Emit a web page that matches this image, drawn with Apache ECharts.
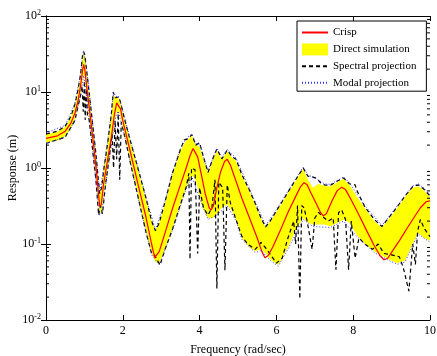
<!DOCTYPE html>
<html>
<head>
<meta charset="utf-8">
<script src="https://cdn.jsdelivr.net/npm/echarts@6/dist/echarts.min.js"></script>
<style>
  html, body { margin: 0; padding: 0; background: #fff; }
  #chart { width: 437px; height: 356px; }
</style>
</head>
<body>
<div id="chart"></div>
<script>
// values: [frequency, response]
const crisp = [
  [0,2.45],[0.3,2.65],[0.5,3.05],[0.65,3.9],[0.75,5.2],[0.83,7.5],[0.9,12],[0.95,19],[0.98,23],[1.01,20],
  [1.05,13],[1.1,8],[1.2,3],[1.3,1.05],[1.36,0.5],[1.4,0.31],[1.44,0.33],[1.5,0.62],[1.6,1.25],[1.7,2.5],
  [1.78,5],[1.84,7.2],[1.88,7.3],[1.94,6],[2.0,4.2],[2.2,1.6],[2.4,0.6],[2.6,0.23],[2.75,0.1],[2.83,0.066],
  [2.88,0.064],[2.95,0.08],[3.1,0.14],[3.3,0.3],[3.5,0.6],[3.65,1.0],[3.75,1.45],[3.83,1.8],[3.88,1.75],[3.95,1.4],
  [4.05,0.8],[4.15,0.45],[4.25,0.3],[4.3,0.28],[4.36,0.32],[4.45,0.55],[4.55,0.9],[4.65,1.22],[4.72,1.3],[4.8,1.1],
  [4.92,0.74],[5.1,0.4],[5.3,0.22],[5.5,0.12],[5.62,0.08],[5.7,0.066],[5.78,0.07],[5.9,0.09],[6.1,0.15],[6.3,0.26],
  [6.5,0.42],[6.62,0.56],[6.72,0.64],[6.8,0.6],[6.9,0.47],[7.05,0.33],[7.15,0.26],[7.22,0.235],[7.3,0.25],[7.45,0.37],
  [7.58,0.5],[7.7,0.56],[7.8,0.52],[7.95,0.38],[8.15,0.24],[8.35,0.15],[8.55,0.095],[8.7,0.07],[8.8,0.062],[8.9,0.065],
  [9.05,0.085],[9.2,0.11],[9.4,0.16],[9.6,0.23],[9.75,0.3],[9.9,0.36],[10,0.37]
];

// direct simulation band: [frequency, lower, upper]
const directBand = [
  [0,2.15,2.75],[0.3,2.3,3.0],[0.5,2.6,3.5],[0.65,3.3,4.7],[0.75,4.3,6.6],[0.83,6.2,10],[0.9,9.5,16],[0.95,14,28],
  [0.98,17,33],[1.01,16,30],[1.05,10,20],[1.1,6,12],[1.2,2.2,4.3],[1.3,0.75,1.5],[1.36,0.35,0.7],[1.4,0.25,0.45],
  [1.45,0.27,0.55],[1.5,0.42,0.9],[1.6,0.9,2.0],[1.7,2.0,4.8],[1.76,3.2,9.2],[1.82,5,8.3],[1.88,5.8,8.4],[1.95,4.5,6.8],
  [2.05,2.7,4.2],[2.2,1.2,2.2],[2.4,0.42,0.95],[2.6,0.15,0.4],[2.75,0.075,0.2],[2.85,0.058,0.15],[2.95,0.055,0.19],
  [3.1,0.085,0.35],[3.3,0.16,0.85],[3.5,0.33,1.7],[3.65,0.55,2.3],[3.8,0.8,2.65],[3.9,0.7,2.0],[4.0,0.42,1.9],
  [4.1,0.28,1.3],[4.22,0.22,0.85],[4.35,0.22,1.3],[4.45,0.25,1.7],[4.58,0.3,1.3],[4.72,0.33,1.65],[4.85,0.27,1.35],
  [4.95,0.21,1.25],[5.1,0.12,0.8],[5.3,0.09,0.5],[5.45,0.08,0.33],[5.6,0.085,0.22],[5.72,0.075,0.165],[5.85,0.062,0.2],
  [6.05,0.053,0.29],[6.3,0.09,0.47],[6.5,0.15,0.68],[6.7,0.22,0.98],[6.82,0.19,0.7],[6.95,0.18,0.55],[7.1,0.18,0.62],
  [7.25,0.18,0.58],[7.4,0.17,0.57],[7.6,0.19,0.66],[7.75,0.21,0.72],[7.9,0.19,0.6],[8.1,0.13,0.42],[8.3,0.1,0.3],
  [8.55,0.08,0.2],[8.75,0.07,0.165],[8.95,0.062,0.22],[9.15,0.056,0.3],[9.35,0.06,0.42],[9.55,0.1,0.55],
  [9.7,0.14,0.57],[9.85,0.12,0.5],[10,0.11,0.42]
];

const spectralUpper = [
  [0,2.8],[0.3,3.05],[0.5,3.55],[0.65,4.8],[0.75,6.8],[0.83,10.5],[0.9,17],[0.95,30],[0.98,34],[1.01,31],
  [1.05,21],[1.1,12.5],[1.2,4.4],[1.3,1.55],[1.36,0.72],[1.4,0.46],[1.45,0.56],[1.5,0.92],[1.6,2.05],[1.7,5],
  [1.75,10],[1.8,8.4],[1.85,8.9],[1.9,8.6],[1.95,7],[2.05,4.3],[2.2,2.25],[2.4,0.97],[2.6,0.41],[2.75,0.2],
  [2.85,0.15],[2.95,0.19],[3.1,0.36],[3.3,0.88],[3.5,1.75],[3.6,2.35],[3.68,2.4],[3.8,2.75],[3.9,2.0],[4.0,2.15],
  [4.1,1.4],[4.22,0.88],[4.35,1.35],[4.45,1.78],[4.58,1.32],[4.72,1.72],[4.85,1.4],[4.95,1.3],[5.1,0.82],[5.3,0.51],
  [5.45,0.34],[5.6,0.22],[5.72,0.168],[5.85,0.205],[6.05,0.3],[6.3,0.48],[6.5,0.7],[6.7,1.0],[6.82,0.78],[6.95,0.76],
  [7.05,0.73],[7.15,0.64],[7.25,0.6],[7.4,0.59],[7.6,0.68],[7.75,0.74],[7.9,0.62],[8.05,0.6],[8.1,0.5],[8.3,0.31],
  [8.55,0.21],[8.75,0.17],[8.95,0.23],[9.15,0.31],[9.35,0.43],[9.55,0.57],[9.7,0.6],[9.85,0.52],[10,0.43]
];

const spectralLower = [
  [0,2.1],[0.5,2.55],[0.75,4.2],[0.85,7],[0.9,9],[0.94,12],[0.97,5.5],[1.0,14],[1.02,4.3],[1.05,11],
  [1.08,4.8],[1.12,4.4],[1.2,2.0],[1.3,0.7],[1.37,0.24],[1.42,0.32],[1.47,0.25],[1.55,0.6],[1.65,1.4],[1.72,2.8],
  [1.76,1.0],[1.8,4.2],[1.84,1.3],[1.88,5.2],[1.92,0.7],[1.96,4.0],[2.05,2.6],[2.2,1.15],[2.4,0.41],[2.6,0.145],
  [2.75,0.075],[2.82,0.072],[2.97,0.053],[3.1,0.085],[3.3,0.16],[3.5,0.33],[3.65,0.56],[3.72,0.85],[3.75,0.063],[3.79,1.0],
  [3.88,0.95],[3.95,0.075],[4.0,0.55],[4.1,0.3],[4.22,0.24],[4.32,0.3],[4.4,0.7],[4.45,0.026],[4.5,0.65],[4.6,0.55],
  [4.66,0.045],[4.72,0.6],[4.8,0.35],[4.92,0.23],[5.1,0.126],[5.25,0.1],[5.45,0.085],[5.6,0.105],[5.75,0.085],[6.0,0.056],
  [6.15,0.065],[6.3,0.12],[6.45,0.2],[6.5,0.1],[6.55,0.32],[6.61,0.019],[6.66,0.32],[6.72,0.3],[6.8,0.2],[6.93,0.085],
  [7.0,0.22],[7.1,0.26],[7.2,0.23],[7.35,0.2],[7.48,0.22],[7.55,0.046],[7.62,0.26],[7.7,0.28],[7.8,0.21],[7.88,0.046],
  [7.95,0.2],[8.05,0.065],[8.15,0.12],[8.3,0.1],[8.5,0.085],[8.65,0.1],[8.8,0.075],[9.0,0.072],[9.2,0.068],[9.3,0.05],
  [9.45,0.024],[9.55,0.1],[9.62,0.054],[9.68,0.15],[9.75,0.21],[9.85,0.16],[10,0.125]
];

const modalUpper = [
  [0,2.9],[0.5,3.65],[0.75,7.0],[0.9,17.5],[0.97,34],[1.05,22],[1.2,4.5],[1.36,0.74],[1.4,0.48],[1.5,0.95],
  [1.7,5.1],[1.76,10],[1.82,8.7],[1.88,8.9],[1.95,7.1],[2.2,2.3],[2.4,1.0],[2.6,0.42],[2.85,0.155],[3.1,0.37],
  [3.3,0.9],[3.5,1.8],[3.65,2.45],[3.8,2.8],[3.9,2.1],[4.0,2.05],[4.1,1.4],[4.22,0.92],[4.45,1.82],[4.58,1.38],
  [4.72,1.75],[4.95,1.35],[5.3,0.53],[5.72,0.175],[6.05,0.31],[6.5,0.72],[6.7,1.03],[6.82,0.8],[6.95,0.77],[7.25,0.62],
  [7.4,0.61],[7.75,0.76],[7.9,0.64],[8.3,0.32],[8.75,0.175],[9.15,0.32],[9.55,0.58],[9.7,0.62],[9.85,0.54],[10,0.45]
];

const modalLower = [
  [0,2.1],[0.5,2.55],[0.75,4.2],[0.9,9.2],[0.98,16.5],[1.05,9.6],[1.2,2.1],[1.36,0.34],[1.4,0.24],[1.45,0.26],
  [1.6,0.88],[1.7,1.95],[1.82,4.8],[1.88,5.6],[2.05,2.6],[2.4,0.4],[2.75,0.072],[2.95,0.053],[3.3,0.155],[3.65,0.53],
  [3.8,0.77],[4.0,0.4],[4.22,0.21],[4.45,0.24],[4.72,0.32],[4.95,0.2],[5.1,0.115],[5.45,0.077],[5.6,0.082],[5.85,0.06],
  [6.05,0.051],[6.3,0.086],[6.7,0.21],[6.95,0.17],[7.4,0.165],[7.75,0.2],[8.1,0.125],[8.55,0.077],[8.95,0.06],[9.15,0.054],
  [9.35,0.058],[9.55,0.097],[9.7,0.135],[10,0.105]
];

const xTicks = [0, 2, 4, 6, 8, 10];
const decades = [0.01, 0.1, 1, 10];
const minorSteps = [2, 3, 4, 5, 6, 7, 8, 9];

const FONT = 'Liberation Serif';
const chart = echarts.init(document.getElementById('chart'), null, { renderer: 'canvas' });

const axisBase = {
  axisLine: { lineStyle: { color: '#000', width: 1 } },
  axisTick: { inside: true, length: 5, lineStyle: { color: '#000' } },
  splitLine: { show: false },
};

function lineSeries(name, data, color, type, width) {
  return {
    name, type: 'line', data, symbol: 'none', showSymbol: false,
    lineStyle: { color, width, type }, itemStyle: { color },
    animation: false, z: 3,
  };
}

// hide the marker that the legend adds to line icons
const noMarker = { opacity: 0 };

chart.setOption({
  animation: false,
  grid: { left: 46, right: 7, top: 16, bottom: 36, outerBoundsMode: 'none', containLabel: false },
  legend: {
    left: 297, top: 21, orient: 'vertical',
    backgroundColor: '#fff', borderColor: '#000', borderWidth: 1,
    padding: [6, 10, 3, 4], itemWidth: 26, itemHeight: 12, itemGap: 5.4,
    selectedMode: false,
    textStyle: { fontFamily: FONT, fontSize: 11, color: '#000' },
    data: [
      { name: 'Crisp', itemStyle: noMarker },
      { name: 'Direct simulation', icon: 'rect', itemStyle: { color: '#ffff00' } },
      { name: 'Spectral projection', itemStyle: noMarker },
      { name: 'Modal projection', itemStyle: noMarker },
    ],
  },
  xAxis: [
    Object.assign({}, axisBase, {
      type: 'value', min: xTicks[0], max: xTicks[xTicks.length - 1], interval: 2,
      name: 'Frequency (rad/sec)', nameLocation: 'middle', nameGap: 24,
      nameTextStyle: { fontFamily: FONT, fontSize: 12, color: '#000' },
      axisLabel: { fontFamily: FONT, fontSize: 12, color: '#000', margin: 5 },
    }),
    Object.assign({}, axisBase, {
      type: 'value', position: 'top', min: 0, max: 10, interval: 2,
      axisLabel: { show: false },
    }),
  ],
  yAxis: [
    Object.assign({}, axisBase, {
      type: 'log', logBase: 10, min: 0.01, max: 100,
      name: 'Response (m)', nameLocation: 'middle', nameGap: 27, nameMoveOverlap: false,
      nameTextStyle: { fontFamily: FONT, fontSize: 12, color: '#000' },
      axisLabel: {
        margin: 5,
        formatter: (v) => '{b|10}{s|' + Math.round(Math.log10(v)) + '}',
        rich: {
          b: { fontFamily: FONT, fontSize: 12, color: '#000', lineHeight: 14 },
          s: { fontFamily: FONT, fontSize: 8, color: '#000', lineHeight: 8, verticalAlign: 'top' },
        },
      },
    }),
    Object.assign({}, axisBase, {
      type: 'log', logBase: 10, min: 0.01, max: 100, position: 'right',
      axisLabel: { show: false },
    }),
  ],
  series: [
    {
      name: 'Direct simulation',
      type: 'custom',
      data: directBand,
      encode: { x: 0, y: [1, 2] },
      itemStyle: { color: '#ffff00' },
      z: 1,
      renderItem: (params, api) => {
        if (params.dataIndex !== 0) return null;
        const top = directBand.map((d) => api.coord([d[0], d[2]]));
        const bottom = directBand.slice().reverse().map((d) => api.coord([d[0], d[1]]));
        return {
          type: 'polygon',
          shape: { points: top.concat(bottom) },
          style: { fill: '#ffff00' },
        };
      },
    },
    lineSeries('Spectral projection', spectralUpper, '#000', [4, 3], 1.2),
    lineSeries('Spectral projection', spectralLower, '#000', [4, 3], 1.2),
    lineSeries('Modal projection', modalUpper, '#3333ff', [1, 2], 1),
    lineSeries('Modal projection', modalLower, '#3333ff', [1, 2], 1),
    lineSeries('Crisp', crisp, '#ff0000', 'solid', 1.2),
    {
      // log minor ticks on the left and right axes
      type: 'custom',
      data: [[0, 1]],
      z: 4,
      silent: true,
      renderItem: (params, api) => {
        const children = [];
        decades.forEach((d) => {
          minorSteps.forEach((m) => {
            const l = api.coord([0, d * m]);
            const r = api.coord([10, d * m]);
            children.push({ type: 'line', shape: { x1: l[0], y1: l[1], x2: l[0] + 3, y2: l[1] }, style: { stroke: '#000', lineWidth: 1 } });
            children.push({ type: 'line', shape: { x1: r[0] - 3, y1: r[1], x2: r[0], y2: r[1] }, style: { stroke: '#000', lineWidth: 1 } });
          });
        });
        return { type: 'group', children };
      },
    },
  ],
});
</script>
</body>
</html>
